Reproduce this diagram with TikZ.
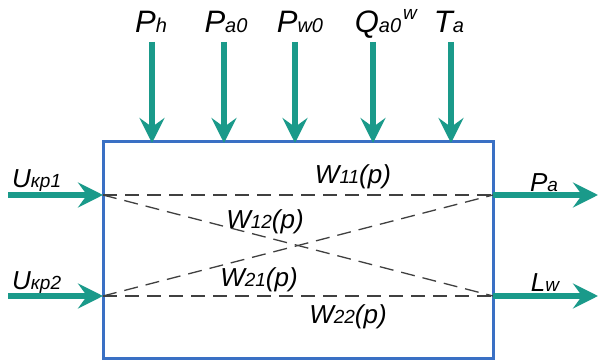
\documentclass[tikz,border=0pt]{standalone}
\usepackage{fontspec}
\setmainfont{Liberation Sans}
\usetikzlibrary{arrows.meta}
\definecolor{teal1}{HTML}{1A9A8A}
\definecolor{boxblue}{HTML}{3A70C4}
\definecolor{dgray}{HTML}{404040}
\newcommand{\bigL}[1]{{\fontsize{31}{33}\selectfont #1}}
\newcommand{\smL}[1]{{\fontsize{20}{22}\selectfont #1}}
\newcommand{\mdL}[1]{{\fontsize{26}{28}\selectfont #1}}
\newcommand{\msL}[1]{{\fontsize{19}{21}\selectfont #1}}
\begin{document}
\begin{tikzpicture}[x=1pt,y=-1pt,
  arr/.style={draw=teal1,line width=6.5pt,-{Stealth[length=25pt,width=25pt,inset=9pt]}},
  dsh/.style={draw=dgray,line width=1.3pt,dash pattern=on 14pt off 8pt},
  lbl/.style={inner sep=0pt,font=\itshape,anchor=base}]
\useasboundingbox (0,0) rectangle (600,363);
\fill[white] (0,0) rectangle (600,363);
% box
\node[draw=boxblue,line width=3pt,minimum width=390pt,minimum height=217pt,inner sep=0pt] (B) at (298,250.5) {};
% coordinates
\coordinate (i1) at (103,195);
\coordinate (i2) at (103,296);
\coordinate (o1) at (493,195);
\coordinate (o2) at (493,296);
\coordinate (s1) at (8,195);
\coordinate (s2) at (8,296);
\coordinate (e1) at (598,195);
\coordinate (e2) at (598,296);
\coordinate (t1) at (152,42);
\coordinate (t2) at (224,42);
\coordinate (t3) at (295,42);
\coordinate (t4) at (373,42);
\coordinate (t5) at (451,42);
\coordinate (b1) at (152,143);
\coordinate (b2) at (224,143);
\coordinate (b3) at (295,143);
\coordinate (b4) at (373,143);
\coordinate (b5) at (451,143);
% dashed lines
\draw[dsh] (i1) -- (o1);
\draw[dsh] (i2) -- (o2);
\draw[dsh] (i1) -- (o2);
\draw[dsh] (i2) -- (o1);
% arrows
\draw[arr] (s1) -- (i1);
\draw[arr] (s2) -- (i2);
\draw[arr] (o1) -- (e1);
\draw[arr] (o2) -- (e2);
\draw[arr] (t1) -- (b1);
\draw[arr] (t2) -- (b2);
\draw[arr] (t3) -- (b3);
\draw[arr] (t4) -- (b4);
\draw[arr] (t5) -- (b5);
% top labels
\node[lbl] (lPh) at (151,33) {\bigL{P}\smL{h}};
\node[lbl] (lPa0) at (226,33) {\bigL{P}\smL{a0}};
\node[lbl] (lPw0) at (300,33) {\bigL{P}\smL{w0}};
\node[lbl] (lQa0) at (378,33) {\bigL{Q}\smL{a0}};
\node[lbl] (lw) at (410,20) {\msL{w}};
\node[lbl] (lTa) at (449,33) {\bigL{T}\smL{a}};
% left labels
\node[lbl,anchor=base west] (lU1) at (12,188) {\mdL{U}\msL{кр1}};
\node[lbl,anchor=base west] (lU2) at (12,290) {\mdL{U}\msL{кр2}};
% right labels
\node[lbl] (lPa) at (544,192) {\mdL{P}\msL{a}};
\node[lbl] (lLw) at (545,292) {\mdL{L}\msL{w}};
% W labels
\node[lbl] (W11) at (353,184) {\mdL{W}\msL{11}\mdL{(p)}};
\node[lbl] (W12) at (265,229) {\mdL{W}\msL{12}\mdL{(p)}};
\node[lbl] (W21) at (259,287) {\mdL{W}\msL{21}\mdL{(p)}};
\node[lbl] (W22) at (348,324) {\mdL{W}\msL{22}\mdL{(p)}};
\end{tikzpicture}
\end{document}
